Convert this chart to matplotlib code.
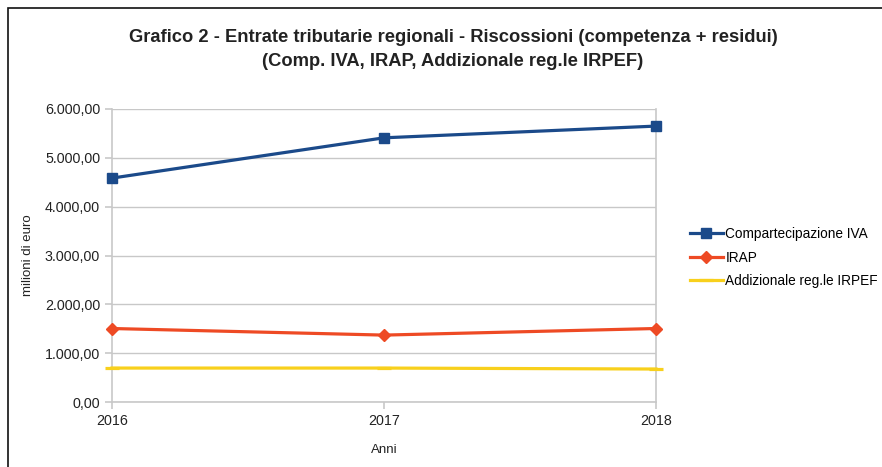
import matplotlib
matplotlib.use("Agg")
import matplotlib.pyplot as plt
from matplotlib.patches import Rectangle
from matplotlib.ticker import FuncFormatter

plt.rcParams['font.family'] = ['Liberation Sans', 'DejaVu Sans']

years = [2016, 2017, 2018]
iva = [4585, 5410, 5650]
irap = [1505, 1370, 1505]
addizionale = [695, 695, 675]
series_names = ["Compartecipazione IVA", "IRAP", "Addizionale reg.le IRPEF"]
yticks = [0, 1000, 2000, 3000, 4000, 5000, 6000]

W, H = 882, 467
fig = plt.figure(figsize=(W / 100, H / 100), dpi=100)
ax = fig.add_axes([112 / W, 1 - 402 / H, (656 - 112) / W, (402 - 109) / H])

ax.plot(years, iva, color="#1b4a8a", lw=2.3, marker="s", ms=7.5, label=series_names[0], zorder=4, clip_on=False)
ax.plot(years, irap, color="#ee4a24", lw=2.3, marker="D", ms=6.5, label=series_names[1], zorder=4, clip_on=False)
ax.plot(years, addizionale, color="#f8d01c", lw=2.3, marker="_", ms=10, mew=2.3,
        label=series_names[2], zorder=3, clip_on=False)

ax.set_xlim(2016, 2018)
ax.set_ylim(0, 6000)
ax.set_xticks(years)
ax.set_xticklabels([str(y) for y in years])
ax.set_yticks(yticks)


def fmt(v, pos):
    s = f"{v:,.2f}"
    return s.replace(",", "X").replace(".", ",").replace("X", ".")


ax.yaxis.set_major_formatter(FuncFormatter(fmt))
ax.grid(axis="y", color="#c8c8c8", lw=1)
ax.set_axisbelow(True)
for side in ["left", "bottom", "right", "top"]:
    ax.spines[side].set_color("#c8c8c8")
    ax.spines[side].set_linewidth(1.2)
ax.spines["top"].set_visible(False)
ax.tick_params(axis="both", colors="#c8c8c8", length=5, width=1.2, labelcolor="#222222", labelsize=10.3)

ax.set_ylabel("milioni di euro", fontsize=9.5, color="#222222", labelpad=8)
ax.set_xlabel("Anni", fontsize=9.5, color="#222222", labelpad=12)

fig.text(453 / W, 1 - 38 / H, "Grafico 2 - Entrate tributarie regionali - Riscossioni (competenza + residui)",
         ha="center", va="center", fontsize=13.2, fontweight="bold", color="#222222")
fig.text(453 / W, 1 - 61 / H, "(Comp. IVA, IRAP, Addizionale reg.le IRPEF)",
         ha="center", va="center", fontsize=13.2, fontweight="bold", color="#222222")

ax.legend(loc="upper left", bbox_to_anchor=(690 / W, 1 - 227 / H), bbox_transform=fig.transFigure,
          frameon=False, fontsize=9.8, handlelength=2.4, handletextpad=0.2, labelspacing=0.7,
          borderaxespad=0, borderpad=0)

fig.patches.append(Rectangle((8 / W, -0.1), 1.2, 1 - 8 / H + 0.1, transform=fig.transFigure,
                             fill=False, edgecolor="#111111", lw=1.2))

fig.savefig("out.png", dpi=100)
